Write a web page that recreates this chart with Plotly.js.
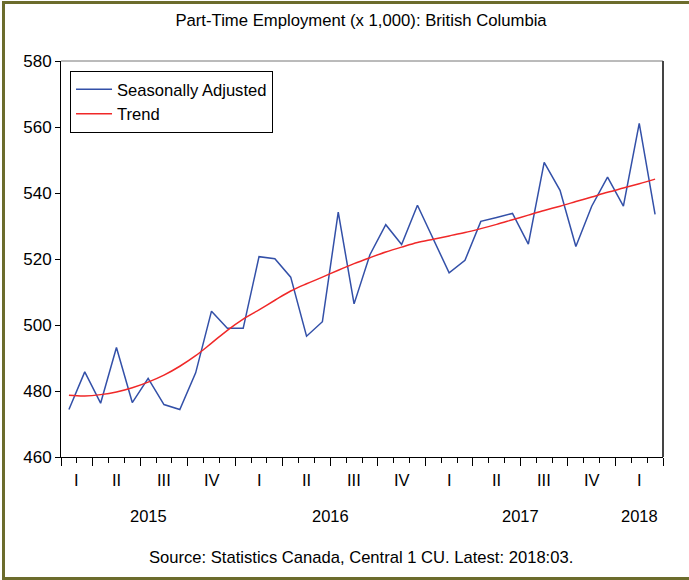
<!DOCTYPE html>
<html>
<head>
<meta charset="utf-8">
<script src="https://cdn.plot.ly/plotly-3.0.1.min.js"></script>
<style>
  html, body { margin: 0; padding: 0; background: #ffffff; overflow: hidden; }
  #frame { position: absolute; left: 2px; top: 1px; width: 720px; height: 573px;
           border-left: 3px solid #6c6c2c; border-top: 3px solid #6c6c2c; border-bottom: 3px solid #6c6c2c; }
  #chart { position: absolute; left: 0; top: 0; width: 689px; height: 580px; }
</style>
</head>
<body>
<div id="frame"></div>
<div id="chart"></div>
<script>
// Months: Feb 2015 .. Mar 2018
const startYear = 2015, startMonth = 2, nMonths = 38;
const months = [];
for (let i = 0; i < nMonths; i++) {
  const m0 = startMonth - 1 + i;
  months.push({ year: startYear + Math.floor(m0 / 12), month: (m0 % 12) + 1 });
}

const seasonallyAdjusted = [
  474.4, 485.8, 476.3, 493.2, 476.5, 483.8, 475.9, 474.4, 485.5, 504.2, 499.0,
  499.0, 520.7, 520.1, 514.5, 496.6, 501.0, 534.2, 506.4, 521.3, 530.4, 524.4, 536.3,
  525.8, 515.8, 519.6, 531.4, 532.6, 533.8, 524.5, 549.3, 540.8, 523.8, 536.0, 544.8, 536.0,
  561.1, 533.5
];
const trend = [
  478.7, 478.5, 478.9, 479.7, 481.0, 482.7, 484.8, 487.5, 490.7, 494.5, 498.4,
  501.8, 504.6, 507.5, 510.3, 512.5, 514.5, 516.6, 518.6, 520.4, 522.1, 523.6, 525.0,
  526.0, 527.0, 528.0, 529.2, 530.5, 531.9, 533.3, 534.7, 536.0, 537.4, 538.8, 540.2, 541.5,
  542.8, 544.2
];
const quarterLabels = ["I", "II", "III", "IV"];
const yTicks = [460, 480, 500, 520, 540, 560, 580];

const xIdx = months.map((_, i) => i);

// quarter boundaries (major ticks) and month boundaries (minor ticks)
const quarterBounds = [-0.5];
months.forEach((m, i) => { if (i > 0 && (m.month - 1) % 3 === 0) quarterBounds.push(i - 0.5); });
quarterBounds.push(nMonths - 0.5);
const monthBounds = [];
for (let i = 0; i <= nMonths; i++) monthBounds.push(i - 0.5);

// quarter / year label positions
const qGroups = {}, yGroups = {};
months.forEach((m, i) => {
  const q = Math.floor((m.month - 1) / 3);
  const key = m.year + "-" + q;
  (qGroups[key] = qGroups[key] || { q: q, idx: [] }).idx.push(i);
  (yGroups[m.year] = yGroups[m.year] || []).push(i);
});
const mean = a => a.reduce((s, v) => s + v, 0) / a.length;

const font = "Liberation Sans, Arial, sans-serif";
const annotations = [];
Object.keys(qGroups).forEach(k => {
  const g = qGroups[k];
  annotations.push({ x: mean(g.idx), y: -0.059, xref: "x", yref: "paper", text: quarterLabels[g.q],
    showarrow: false, xanchor: "center", yanchor: "middle", font: { family: font, size: 16.5, color: "#000" } });
});
Object.keys(yGroups).forEach(yr => {
  annotations.push({ x: mean(yGroups[yr]), y: -0.149, xref: "x", yref: "paper", text: String(yr),
    showarrow: false, xanchor: "center", yanchor: "middle", font: { family: font, size: 16.5, color: "#000" } });
});
annotations.push({ x: 0.4986, y: -0.253, xref: "paper", yref: "paper",
  text: "Source: Statistics Canada, Central 1 CU. Latest: 2018:03.",
  showarrow: false, xanchor: "center", yanchor: "middle", font: { family: font, size: 16.6, color: "#000" } });

const traces = [
  { x: xIdx, y: seasonallyAdjusted, type: "scatter", mode: "lines", name: "Seasonally Adjusted",
    line: { color: "#3350a8", width: 1.5 } },
  { x: xIdx, y: trend, type: "scatter", mode: "lines", name: "Trend",
    line: { color: "#f02828", width: 1.5, shape: "spline" } }
];

const layout = {
  width: 689, height: 580,
  margin: { l: 61, r: 26, t: 61, b: 123, pad: 0 },
  paper_bgcolor: "rgba(0,0,0,0)", plot_bgcolor: "#ffffff",
  font: { family: font, size: 16, color: "#000" },
  title: { text: "Part-Time Employment (x 1,000): British Columbia", x: 0.524, xanchor: "center",
    y: 0.9655, yanchor: "middle", font: { family: font, size: 16.7, color: "#000" } },
  showlegend: true,
  legend: { x: 0.015, y: 0.975, xanchor: "left", yanchor: "top", bordercolor: "#000", borderwidth: 1,
    bgcolor: "#fff", font: { family: font, size: 16.6, color: "#000" }, tracegroupgap: 0, itemwidth: 36 },
  xaxis: {
    range: [-0.5, nMonths - 0.5], showgrid: false, zeroline: false,
    showline: true, linecolor: "#000", linewidth: 1,
    tickmode: "array", tickvals: quarterBounds, ticks: "outside", ticklen: 8, tickcolor: "#000", tickwidth: 1,
    showticklabels: false,
    minor: { tickmode: "array", tickvals: monthBounds, ticks: "outside", ticklen: 5, tickcolor: "#000", tickwidth: 1, showgrid: false }
  },
  yaxis: {
    range: [460, 580], showgrid: false, zeroline: false,
    showline: true, linecolor: "#000", linewidth: 1,
    tickmode: "array", tickvals: yTicks, ticks: "outside", ticklen: 5, tickcolor: "#000",
    tickfont: { family: font, size: 17, color: "#000" }
  },
  shapes: [
    { type: "line", xref: "paper", yref: "paper", x0: 0, x1: 1, y0: 1, y1: 1, line: { color: "#777", width: 1 } },
    { type: "line", xref: "paper", yref: "paper", x0: 1, x1: 1, y0: 0, y1: 1, line: { color: "#444", width: 2 } }
  ],
  annotations: annotations
};

Plotly.newPlot("chart", traces, layout, { displayModeBar: false, staticPlot: true });
</script>
</body>
</html>
